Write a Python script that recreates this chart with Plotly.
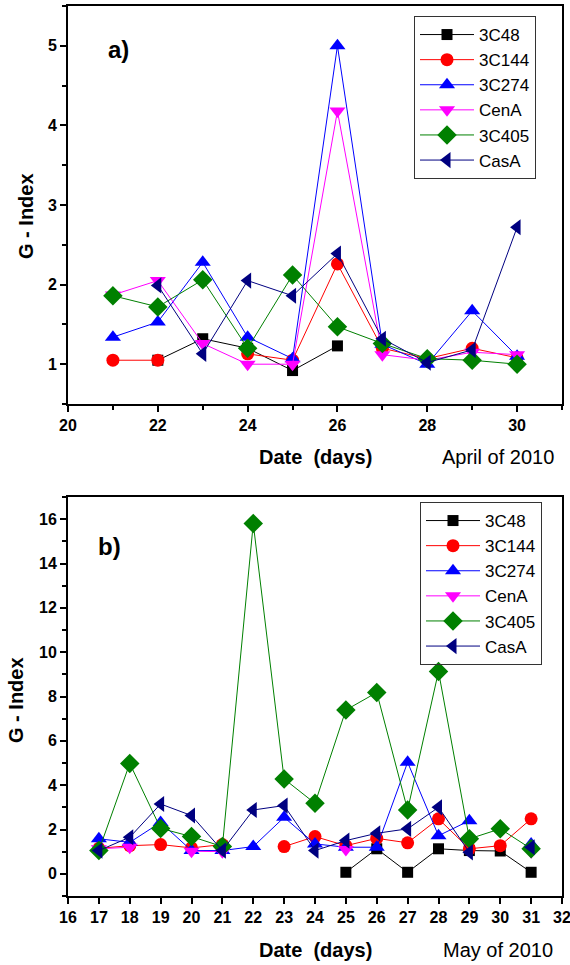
import plotly.graph_objects as go

# ---------------- Data ----------------
names = ["3C48", "3C144", "3C274", "CenA", "3C405", "CasA"]

days_a = [21, 22, 23, 24, 25, 26, 27, 28, 29, 30]
a_3C48  = [None, 1.05, 1.32, 1.20, 0.92, 1.23, None, None, None, None]
a_3C144 = [1.05, 1.05, None, 1.13, 1.05, 2.26, 1.20, 1.07, 1.20, 1.08]
a_3C274 = [1.34, 1.53, 2.28, 1.34, 1.07, 5.00, 1.25, 1.00, 1.67, 1.10]
a_CenA  = [1.87, 2.05, 1.26, 1.00, 1.00, 4.18, 1.12, 1.05, 1.15, 1.12]
a_3C405 = [1.86, 1.72, 2.06, 1.20, 2.12, 1.47, 1.26, 1.07, 1.05, 1.00]
a_CasA  = [None, 1.99, 1.13, 2.05, 1.86, 2.39, 1.32, 1.02, 1.18, 2.72]

days_b = [17, 18, 19, 20, 21, 22, 23, 24, 25, 26, 27, 28, 29, 30, 31]
b_3C48  = [None, None, None, None, 1.25, None, None, None, 0.07, 1.13, 0.07, 1.13, 1.05, 1.03, 0.07]
b_3C144 = [1.15, 1.27, 1.32, 1.17, 1.32, None, 1.23, 1.68, 1.27, 1.60, 1.40, 2.48, 1.13, 1.27, 2.48]
b_3C274 = [1.58, 1.42, 2.32, 1.05, 1.05, 1.23, 2.55, 1.35, 1.20, 1.20, 5.03, 1.72, 2.40, None, 1.35]
b_CenA  = [1.13, 1.20, None, 1.02, 1.00, None, None, None, 1.10, None, None, None, None, None, 1.00]
b_3C405 = [1.05, 4.98, 2.05, 1.68, 1.23, 15.8, 4.28, 3.18, 7.39, 8.18, 2.88, 9.13, 1.58, 2.03, 1.13]
b_CasA  = [1.05, 1.65, 3.15, 2.63, 1.05, 2.88, 3.08, 1.05, 1.50, 1.83, 2.03, 3.00, 0.97, None, 1.20]

ticks_a = [20, 22, 24, 26, 28, 30]
ticks_ay = [1, 2, 3, 4, 5]
ticks_b = list(range(16, 33))
ticks_by = [0, 2, 4, 6, 8, 10, 12, 14, 16]

# ---------------- Styles ----------------
colors = ["#000000", "#FF0000", "#0000FF", "#FF00FF", "#008000", "#000080"]
symbols = ["square", "circle", "triangle-up", "triangle-down", "diamond", "triangle-left"]
sizes = [11, 13, 14, 14, 15, 14]

FONT = "Liberation Sans, Arial, sans-serif"

fig = go.Figure()

series_a = [a_3C48, a_3C144, a_3C274, a_CenA, a_3C405, a_CasA]
series_b = [b_3C48, b_3C144, b_3C274, b_CenA, b_3C405, b_CasA]

for i, n in enumerate(names):
    fig.add_trace(go.Scatter(
        x=days_a, y=series_a[i], name=n, mode="lines+markers",
        line=dict(color=colors[i], width=1),
        marker=dict(symbol=symbols[i], size=sizes[i], color=colors[i], line=dict(width=0)),
        xaxis="x", yaxis="y", legend="legend", connectgaps=False))
for i, n in enumerate(names):
    fig.add_trace(go.Scatter(
        x=days_b, y=series_b[i], name=n, mode="lines+markers",
        line=dict(color=colors[i], width=1),
        marker=dict(symbol=symbols[i], size=sizes[i], color=colors[i], line=dict(width=0)),
        xaxis="x2", yaxis="y2", legend="legend2", connectgaps=False))

W, H = 570, 965
def px_x(p):
    return p / W
def px_y(p):
    return 1 - p / H

def bold(vals):
    return ["<b>%s</b>" % v for v in vals]

axis_common = dict(
    showline=True, linecolor="black", linewidth=2, mirror=True,
    showgrid=False, zeroline=False, ticks="outside", ticklen=6, tickwidth=1.5,
    tickcolor="black", tickfont=dict(family=FONT, size=16, color="black"),
    ticklabeloverflow="allow", automargin=False,
)

legend_common = dict(
    xanchor="left", yanchor="top",
    bordercolor="#333333", borderwidth=1, bgcolor="rgba(255,255,255,0)",
    font=dict(family=FONT, size=17, color="black"),
    tracegroupgap=0, itemwidth=54,
)

fig.update_layout(
    width=W, height=H,
    margin=dict(l=0, r=0, t=0, b=0, autoexpand=False),
    paper_bgcolor="white", plot_bgcolor="white",
    font=dict(family=FONT, color="black"),
    xaxis=dict(domain=[px_x(68), px_x(562)], range=[20, 31], anchor="y",
               tickvals=ticks_a, ticktext=bold(ticks_a),
               minor=dict(dtick=1, tick0=20, ticks="outside", ticklen=4, tickcolor="black"),
               **axis_common),
    yaxis=dict(domain=[px_y(404), px_y(6)], range=[0.5, 5.5], anchor="x",
               tickvals=ticks_ay, ticktext=bold(ticks_ay),
               minor=dict(dtick=0.5, tick0=0.5, ticks="outside", ticklen=4, tickcolor="black"),
               **axis_common),
    xaxis2=dict(domain=[px_x(68), px_x(562)], range=[16, 32], anchor="y2",
                tickvals=ticks_b, ticktext=bold(ticks_b), **axis_common),
    yaxis2=dict(domain=[px_y(896), px_y(497)], range=[-1, 17], anchor="x2",
                tickvals=ticks_by, ticktext=bold(ticks_by),
                minor=dict(dtick=1, tick0=-1, ticks="outside", ticklen=4, tickcolor="black"),
                **axis_common),
    legend=dict(x=px_x(414), y=px_y(16), **legend_common),
    legend2=dict(x=px_x(420), y=px_y(502), **legend_common),
    showlegend=True,
)

ann = []
ann.append(dict(text="<b>a)</b>", x=px_x(106), y=px_y(49), xref="paper", yref="paper",
                xanchor="left", yanchor="middle", showarrow=False,
                font=dict(family=FONT, size=24, color="black")))
ann.append(dict(text="<b>b)</b>", x=px_x(96), y=px_y(546), xref="paper", yref="paper",
                xanchor="left", yanchor="middle", showarrow=False,
                font=dict(family=FONT, size=24, color="black")))
for xc, yc in [(26, 216), (16, 700)]:
    ann.append(dict(text="<b>G - Index</b>", x=px_x(xc), y=px_y(yc), xref="paper", yref="paper",
                    xanchor="center", yanchor="middle", textangle=-90, showarrow=False,
                    font=dict(family=FONT, size=20, color="black")))
for yc, label in [(457, "April of 2010"), (950, "May of 2010")]:
    ann.append(dict(text="<b>Date \u00a0(days)</b>", x=px_x(316), y=px_y(yc), xref="paper", yref="paper",
                    xanchor="center", yanchor="middle", showarrow=False,
                    font=dict(family=FONT, size=20, color="black")))
    ann.append(dict(text=label, x=px_x(498), y=px_y(yc), xref="paper", yref="paper",
                    xanchor="center", yanchor="middle", showarrow=False,
                    font=dict(family=FONT, size=20, color="black")))
fig.update_layout(annotations=ann)

fig.write_html("out.html")
